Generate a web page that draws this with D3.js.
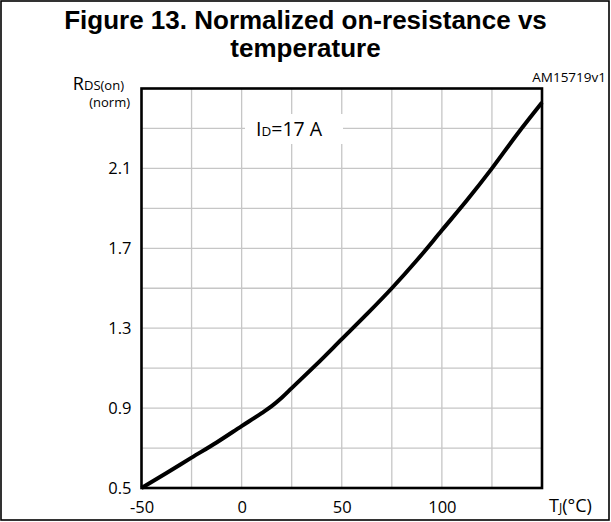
<!DOCTYPE html>
<html lang="en">
<head>
<meta charset="UTF-8">
<title>Normalized on-resistance vs temperature</title>
<script src="https://cdn.jsdelivr.net/npm/d3@7/dist/d3.min.js"></script>
<style>
  body { margin: 0; background: #fff; }
  svg text { font-family: "Open Sans", "Noto Sans", sans-serif; fill: #000; }
  .title { font-family: "Liberation Sans", Arial, sans-serif !important; font-weight: bold; font-size: 26px; }
</style>
</head>
<body>
<svg id="mainsvg" width="611" height="522"></svg>
<script>
// curve
const tempC = [-50, -37.5, -25, -12.5, 0, 10, 15, 20, 25, 37.5, 50, 62.5, 75, 87.5, 100, 112.5, 125, 137.5, 150];
const rdsNorm = [0.50, 0.575, 0.652, 0.728, 0.81, 0.875, 0.91, 0.952, 1.0, 1.12, 1.245, 1.37, 1.50, 1.64, 1.79, 1.94, 2.10, 2.27, 2.43];

const xTickLabels = [-50, 0, 50, 100];
const yTickLabels = [0.5, 0.9, 1.3, 1.7, 2.1];
const xGrid = [-25, 0, 25, 50, 75, 100, 125];
const yGrid = [0.7, 0.9, 1.1, 1.3, 1.5, 1.7, 1.9, 2.1, 2.3];

const svg = d3.select('#mainsvg');
const plot = {left: 141.5, right: 542, top: 88.5, bottom: 488};

const x = d3.scaleLinear().domain([-50, 150]).range([plot.left, plot.right]);
const y = d3.scaleLinear().domain([0.5, 2.5]).range([plot.bottom, plot.top]);

// outer frame
svg.append('rect')
    .attr('x', 1).attr('y', 1)
    .attr('width', 608).attr('height', 519)
    .attr('fill', 'none').attr('stroke', '#000').attr('stroke-width', 1.6);

// title
svg.append('text').attr('class', 'title')
    .attr('x', 305.5).attr('y', 29).attr('text-anchor', 'middle')
    .text('Figure 13. Normalized on-resistance vs');
svg.append('text').attr('class', 'title')
    .attr('x', 305.5).attr('y', 57).attr('text-anchor', 'middle')
    .text('temperature');

svg.append('text')
    .attr('x', 606).attr('y', 82).attr('text-anchor', 'end')
    .attr('font-size', 13.5)
    .text('AM15719v1');

// grid
const grid = svg.append('g');
grid.selectAll('line.vx').data(xGrid).join('line')
    .attr('x1', d => x(d)).attr('x2', d => x(d))
    .attr('y1', plot.top).attr('y2', plot.bottom)
    .attr('stroke', '#c6c6c6').attr('stroke-width', 1.3);
grid.selectAll('line.hy').data(yGrid).join('line')
    .attr('x1', plot.left).attr('x2', plot.right)
    .attr('y1', d => y(d)).attr('y2', d => y(d))
    .attr('stroke', '#c6c6c6').attr('stroke-width', 1.3);

// label box hiding the grid
svg.append('rect')
    .attr('x', 245).attr('y', 114).attr('width', 98).attr('height', 30)
    .attr('fill', '#fff');
const idLabel = svg.append('text').attr('x', 256).attr('y', 136).attr('font-size', 19.5);
idLabel.append('tspan').text('I');
idLabel.append('tspan').attr('font-size', 13.5).text('D');
idLabel.append('tspan').text('=17 A');

// axes
const xAxis = svg.append('g')
    .attr('transform', `translate(0,${plot.bottom + 10})`)
    .call(d3.axisBottom(x).tickValues(xTickLabels).tickSize(0).tickFormat(d => String(d)));
xAxis.select('.domain').remove();
xAxis.selectAll('text').attr('font-size', 16.5).attr('dy', '0.71em')
    .style('font-family', '"Open Sans", sans-serif');

const yAxis = svg.append('g')
    .attr('transform', `translate(${plot.left - 7},0)`)
    .call(d3.axisLeft(y).tickValues(yTickLabels).tickSize(0).tickFormat(d3.format('.1f')));
yAxis.select('.domain').remove();
yAxis.selectAll('text').attr('font-size', 16.5)
    .style('font-family', '"Open Sans", sans-serif');

// plot border
svg.append('rect')
    .attr('x', plot.left).attr('y', plot.top)
    .attr('width', plot.right - plot.left).attr('height', plot.bottom - plot.top)
    .attr('fill', 'none').attr('stroke', '#000').attr('stroke-width', 2.6);

// axis titles
const yTitle = svg.append('text').attr('x', 124).attr('y', 90).attr('text-anchor', 'end');
yTitle.append('tspan').attr('font-size', 18).text('R');
yTitle.append('tspan').attr('font-size', 13).text('DS(on)');
svg.append('text').attr('x', 130).attr('y', 107).attr('text-anchor', 'end')
    .attr('font-size', 13).text('(norm)');

const xTitle = svg.append('text').attr('x', 549).attr('y', 512);
xTitle.append('tspan').attr('font-size', 18).text('T');
xTitle.append('tspan').attr('font-size', 12).text('J');
xTitle.append('tspan').attr('font-size', 18).text('(°C)');

// curve
const line = d3.line()
    .x((d, i) => x(tempC[i]))
    .y(d => y(d))
    .curve(d3.curveMonotoneX);
svg.append('path')
    .datum(rdsNorm)
    .attr('d', line)
    .attr('fill', 'none')
    .attr('stroke', '#000')
    .attr('stroke-width', 4)
    .attr('stroke-linecap', 'butt');
</script>
</body>
</html>
